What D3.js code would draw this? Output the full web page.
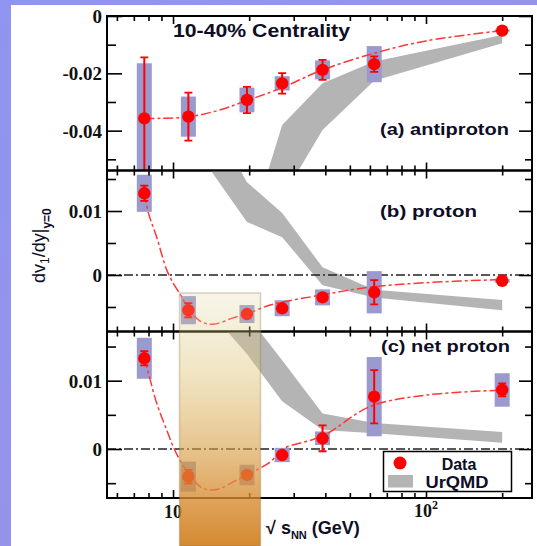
<!DOCTYPE html>
<html><head><meta charset="utf-8">
<script src="https://cdn.jsdelivr.net/npm/d3@7"></script>
<style>html,body{margin:0;padding:0;overflow:hidden;background:#fff}</style>
</head><body>
<script>
// ---------------- data ----------------
const energies = [7.7, 11.5, 19.6, 27, 39, 62.4, 200];

const antiprotonV    = [-0.0357, -0.0351, -0.0293, -0.0235, -0.0188, -0.0168, -0.0051];
const antiprotonStat = [0.0213, 0.0084, 0.0046, 0.0036, 0.0035, 0.0027, 0.0004];
const antiprotonSys  = [0.0192, 0.0070, 0.0043, 0.0025, 0.0033, 0.0063, 0.0004];

const protonV    = [0.01277, -0.0055, -0.0061, -0.0052, -0.0035, -0.0027, -0.0009];
const protonStat = [0.0012, 0.0011, 0.0003, 0.0003, 0.0003, 0.0019, 0.0002];
const protonSys  = [0.0029, 0.0022, 0.0014, 0.00125, 0.00125, 0.0033, 0.0003];

const netProtonV    = [0.01328, -0.00405, -0.0038, -0.00088, 0.00157, 0.00766, 0.00864];
const netProtonStat = [0.00105, 0.0010, 0.0003, 0.0003, 0.0019, 0.0039, 0.00095];
const netProtonSys  = [0.0030, 0.0022, 0.0015, 0.00105, 0.0010, 0.0058, 0.00245];

// fit curves
const fitAntiprotonE = [7.7, 9, 11.5, 15, 19.6, 27, 39, 62.4, 100, 200];
const fitAntiprotonV = [-0.0357, -0.0357, -0.0352, -0.0330, -0.0295, -0.0250, -0.0188, -0.0130, -0.0087, -0.0051];
const fitProtonE = [7.7, 7.99, 8.62, 9.44, 10.03, 10.82, 11.46, 12.79, 14.39, 17.26, 19.6, 24.2, 39, 60, 100, 200];
const fitProtonV = [0.0128, 0.0097, 0.0059, 0.0008, -0.0013, -0.0034, -0.0052, -0.0072, -0.0077, -0.0067, -0.0061, -0.0047, -0.0031, -0.0019, -0.0012, -0.0007];
const fitNetProtonE = [7.7, 7.93, 8.62, 9.44, 10.03, 10.82, 11.3, 12.8, 14.0, 15.3, 17.3, 19.6, 24.2, 27.2, 39, 60, 100, 200];
const fitNetProtonV = [0.0133, 0.0116, 0.0067, 0.0028, 0.0003, -0.0021, -0.0031, -0.0055, -0.0060, -0.0058, -0.0048, -0.0038, -0.0019, 0.0, 0.0019, 0.0062, 0.0079, 0.0086];

// UrQMD bands
const urqmdE = [11.5, 19.6, 27, 39, 62.4, 200];
const urqmdAntiprotonHi = [null, -0.078, -0.038, -0.0235, -0.0159, -0.0066];
const urqmdAntiprotonLo = [null, -0.095, -0.0635, -0.0398, -0.0226, -0.0095];
const urqmdProtonHi = [0.031, 0.0145, 0.0097, 0.0012, -0.0023, -0.0039];
const urqmdProtonLo = [0.0213, 0.0083, 0.0059, -0.0016, -0.0035, -0.0055];
const urqmdNetProtonHi = [0.029, 0.0196, 0.0130, 0.0052, 0.0038, 0.0025];
const urqmdNetProtonLo = [0.0237, 0.0139, 0.0070, 0.0028, 0.0023, 0.0009];

// ticks
const xMajorTicks = [10, 100];
const xMinorTicks = [6, 7, 8, 9, 20, 30, 40, 50, 60, 70, 80, 90, 200];
const yMajorA = [0, -0.02, -0.04], yLabelsA = ["0", "-0.02", "-0.04"], yMinorA = [-0.01, -0.03, -0.05];
const yMajorB = [0.01, 0], yLabelsB = ["0.01", "0"], yMinorB = [0.015, 0.005, -0.005];
const yMajorC = [0.01, 0], yLabelsC = ["0.01", "0"], yMinorC = [0.015, 0.005, -0.005];

// ---------------- drawing ----------------
const W = 537, H = 546;
const L = 107, R = 532;
const SERIF = "'Liberation Serif', 'Times New Roman', serif";
const sans = "'Liberation Sans', Arial, sans-serif";
const TXT = "#0d0d26";

const svg = d3.select("body").append("svg").attr("width", W).attr("height", H)
  .style("display", "block");
const defs = svg.append("defs");

const bg = defs.append("linearGradient").attr("id", "bg").attr("x1", 0).attr("y1", 0).attr("x2", 1).attr("y2", 1);
bg.append("stop").attr("offset", 0).attr("stop-color", "#8f95f0");
bg.append("stop").attr("offset", 1).attr("stop-color", "#9c92e2");
svg.append("rect").attr("width", W).attr("height", H).attr("fill", "url(#bg)");
svg.append("rect").attr("x", 11).attr("y", 5).attr("width", W - 11).attr("height", H - 5).attr("fill", "#fff");

const x = d3.scaleLog().domain([5.483, 262.4]).range([L, R]);

const panels = [
  {id: "a", top: 16, bottom: 170.5, dom: [-0.0539, 0], v: antiprotonV, st: antiprotonStat, sy: antiprotonSys,
   fE: fitAntiprotonE, fV: fitAntiprotonV, uHi: urqmdAntiprotonHi, uLo: urqmdAntiprotonLo,
   maj: yMajorA, lab: yLabelsA, min: yMinorA, zero: false},
  {id: "b", top: 170.5, bottom: 331.5, dom: [-0.00883, 0.01633], v: protonV, st: protonStat, sy: protonSys,
   fE: fitProtonE, fV: fitProtonV, uHi: urqmdProtonHi, uLo: urqmdProtonLo,
   maj: yMajorB, lab: yLabelsB, min: yMinorB, zero: true},
  {id: "c", top: 331.5, bottom: 498, dom: [-0.00717, 0.0172], v: netProtonV, st: netProtonStat, sy: netProtonSys,
   fE: fitNetProtonE, fV: fitNetProtonV, uHi: urqmdNetProtonHi, uLo: urqmdNetProtonLo,
   maj: yMajorC, lab: yLabelsC, min: yMinorC, zero: true}
];

const RED = "#ff0000", BOX = "#9a9acf", GREY = "#b4b4b4";

panels.forEach(p => {
  const y = d3.scaleLinear().domain(p.dom).range([p.bottom, p.top]);
  defs.append("clipPath").attr("id", "clip" + p.id).append("rect")
    .attr("x", L).attr("y", p.top).attr("width", R - L).attr("height", p.bottom - p.top);
  const g = svg.append("g").attr("clip-path", `url(#clip${p.id})`);

  // UrQMD band
  const band = urqmdE.map((e, i) => ({e, hi: p.uHi[i], lo: p.uLo[i]})).filter(d => d.hi !== null);
  g.append("path").datum(band)
    .attr("d", d3.area().x(d => x(d.e)).y0(d => y(d.lo)).y1(d => y(d.hi)))
    .attr("fill", GREY);

  // zero line
  if (p.zero) {
    g.append("line").attr("x1", L).attr("x2", R).attr("y1", y(0)).attr("y2", y(0))
      .attr("stroke", "#222").attr("stroke-width", 1.3).attr("stroke-dasharray", "9,3,2,3");
  }

  const pts = energies.map((e, i) => ({e, v: p.v[i], st: p.st[i], sy: p.sy[i]}));
  // systematic boxes
  g.selectAll(".sys").data(pts).enter().append("rect")
    .attr("x", d => x(d.e) - 7.5).attr("width", 15)
    .attr("y", d => y(d.v + d.sy)).attr("height", d => y(d.v - d.sy) - y(d.v + d.sy))
    .attr("fill", BOX);

  // fit curve
  const fit = p.fE.map((e, i) => ({e, v: p.fV[i]}));
  g.append("path").datum(fit)
    .attr("d", d3.line().x(d => x(d.e)).y(d => y(d.v)).curve(d3.curveCatmullRom.alpha(0.5)))
    .attr("fill", "none").attr("stroke", "#ff3636").attr("stroke-width", 1.5)
    .attr("stroke-dasharray", "10,3,3,3");

  // stat error bars
  const eb = g.selectAll(".eb").data(pts).enter().append("g");
  eb.append("line").attr("x1", d => x(d.e)).attr("x2", d => x(d.e))
    .attr("y1", d => y(d.v + d.st)).attr("y2", d => y(d.v - d.st))
    .attr("stroke", RED).attr("stroke-width", 2);
  [1, -1].forEach(s => {
    eb.append("line").attr("x1", d => x(d.e) - 4).attr("x2", d => x(d.e) + 4)
      .attr("y1", d => y(d.v + s * d.st)).attr("y2", d => y(d.v + s * d.st))
      .attr("stroke", RED).attr("stroke-width", 1.8);
  });
  g.selectAll(".pt").data(pts).enter().append("circle")
    .attr("cx", d => x(d.e)).attr("cy", d => y(d.v)).attr("r", 6.2).attr("fill", RED);

  // axes ticks
  const tickStyle = sel => { sel.select(".domain").remove(); sel.selectAll("line").attr("stroke", "#000").attr("stroke-width", 1.6); };
  svg.append("g").attr("transform", `translate(0,${p.top})`)
    .call(d3.axisTop(x).tickValues(xMinorTicks).tickSize(-5).tickFormat("")).call(tickStyle);
  svg.append("g").attr("transform", `translate(0,${p.top})`)
    .call(d3.axisTop(x).tickValues(xMajorTicks).tickSize(-8).tickFormat("")).call(tickStyle);
  svg.append("g").attr("transform", `translate(0,${p.bottom})`)
    .call(d3.axisBottom(x).tickValues(xMinorTicks).tickSize(-5).tickFormat("")).call(tickStyle);
  svg.append("g").attr("transform", `translate(0,${p.bottom})`)
    .call(d3.axisBottom(x).tickValues(xMajorTicks).tickSize(-8).tickFormat("")).call(tickStyle);

  svg.append("g").attr("transform", `translate(${L},0)`)
    .call(d3.axisLeft(y).tickValues(p.min).tickSize(-9).tickFormat("")).call(tickStyle);
  const yl = svg.append("g").attr("transform", `translate(${L},0)`)
    .call(d3.axisLeft(y).tickValues(p.maj).tickSize(-15).tickPadding(5).tickFormat((d, i) => p.lab[i]))
    .call(tickStyle);
  yl.attr("font-family", null).attr("font-size", null);
  yl.selectAll("text").style("font-family", SERIF).style("font-weight", "bold")
    .style("font-size", "19px").attr("fill", "#111").attr("dy", "0.34em");
  svg.append("g").attr("transform", `translate(${R},0)`)
    .call(d3.axisRight(y).tickValues(p.min).tickSize(-7).tickFormat("")).call(tickStyle);
  svg.append("g").attr("transform", `translate(${R},0)`)
    .call(d3.axisRight(y).tickValues(p.maj).tickSize(-13).tickFormat("")).call(tickStyle);

  svg.append("rect").attr("x", L).attr("y", p.top).attr("width", R - L).attr("height", p.bottom - p.top)
    .attr("fill", "none").attr("stroke", "#000").attr("stroke-width", 2);
});

// x tick labels
const xl = svg.append("g").style("font-family", SERIF).style("font-weight", "bold")
  .attr("fill", "#111").attr("text-anchor", "middle");
xl.append("text").attr("x", x(10)).attr("y", 518).style("font-size", "18px").text("10");
const t2 = xl.append("text").attr("x", x(100)).attr("y", 517).style("font-size", "18px");
t2.append("tspan").text("10");
t2.append("tspan").style("font-size", "12px").attr("dy", -8).text("2");

// texts
svg.append("text").attr("x", 173).attr("y", 37).style("font-family", sans).attr("font-weight", "bold")
  .attr("font-size", 18).attr("fill", TXT).attr("textLength", 177).attr("lengthAdjust", "spacingAndGlyphs")
  .text("10-40% Centrality");
[["(a) antiproton", 380, 135, 129], ["(b) proton", 380, 216.5, 97], ["(c) net proton", 381, 351.5, 129]]
  .forEach(([t, tx, ty, tl]) => svg.append("text").attr("x", tx).attr("y", ty).style("font-family", sans)
    .attr("font-weight", "bold").attr("font-size", 17).attr("fill", TXT)
    .attr("textLength", tl).attr("lengthAdjust", "spacingAndGlyphs").text(t));

// y label
const ylab = svg.append("text").attr("transform", "translate(45,283) rotate(-90)")
  .style("font-family", sans).attr("font-size", 18).attr("fill", TXT);
ylab.append("tspan").text("dv");
ylab.append("tspan").attr("font-size", 12).attr("dy", 4).text("1");
ylab.append("tspan").attr("dy", -4).text("/dy|");
ylab.append("tspan").attr("font-size", 12).attr("dy", 6).attr("font-weight", "bold").text("y=0");

// x title
const xt = svg.append("text").attr("x", 266).attr("y", 534).style("font-family", sans)
  .attr("font-weight", "bold").attr("font-size", 18).attr("fill", TXT);
xt.append("tspan").text("\u221A s");
xt.append("tspan").attr("font-size", 11).attr("dy", 5).text("NN");
xt.append("tspan").attr("dy", -5).text(" (GeV)");

// legend
const lg = svg.append("g");
lg.append("rect").attr("x", 383.5).attr("y", 451.5).attr("width", 128).attr("height", 40)
  .attr("fill", "#fff").attr("stroke", "#000").attr("stroke-width", 1.5);
lg.append("circle").attr("cx", 400).attr("cy", 463).attr("r", 6.5).attr("fill", RED);
lg.append("rect").attr("x", 388).attr("y", 475).attr("width", 25).attr("height", 12.5).attr("fill", GREY);
lg.append("text").attr("x", 459).attr("y", 469.5).attr("text-anchor", "middle").style("font-family", sans)
  .attr("font-weight", "bold").attr("font-size", 16).attr("fill", TXT).text("Data");
lg.append("text").attr("x", 457).attr("y", 487.5).attr("text-anchor", "middle").style("font-family", sans)
  .attr("font-weight", "bold").attr("font-size", 16).attr("fill", TXT)
  .attr("textLength", 63).attr("lengthAdjust", "spacingAndGlyphs").text("UrQMD");

// orange highlight
const og = defs.append("linearGradient").attr("id", "org").attr("gradientUnits", "userSpaceOnUse")
  .attr("x1", 0).attr("y1", 293).attr("x2", 0).attr("y2", 546);
[[0, "rgb(222,210,150)", 0.22], [0.3, "rgb(222,195,115)", 0.42], [0.6, "rgb(215,160,70)", 0.6],
 [0.8, "rgb(215,140,50)", 0.78], [1, "rgb(210,130,35)", 0.94]]
  .forEach(([o, c, a]) => og.append("stop").attr("offset", o).attr("stop-color", c).attr("stop-opacity", a));
svg.append("rect").attr("x", 179.5).attr("y", 293).attr("width", 81).attr("height", H - 293)
  .attr("fill", "url(#org)").attr("stroke", "rgba(130,110,70,0.3)").attr("stroke-width", 1.5);
</script>
</body></html>
